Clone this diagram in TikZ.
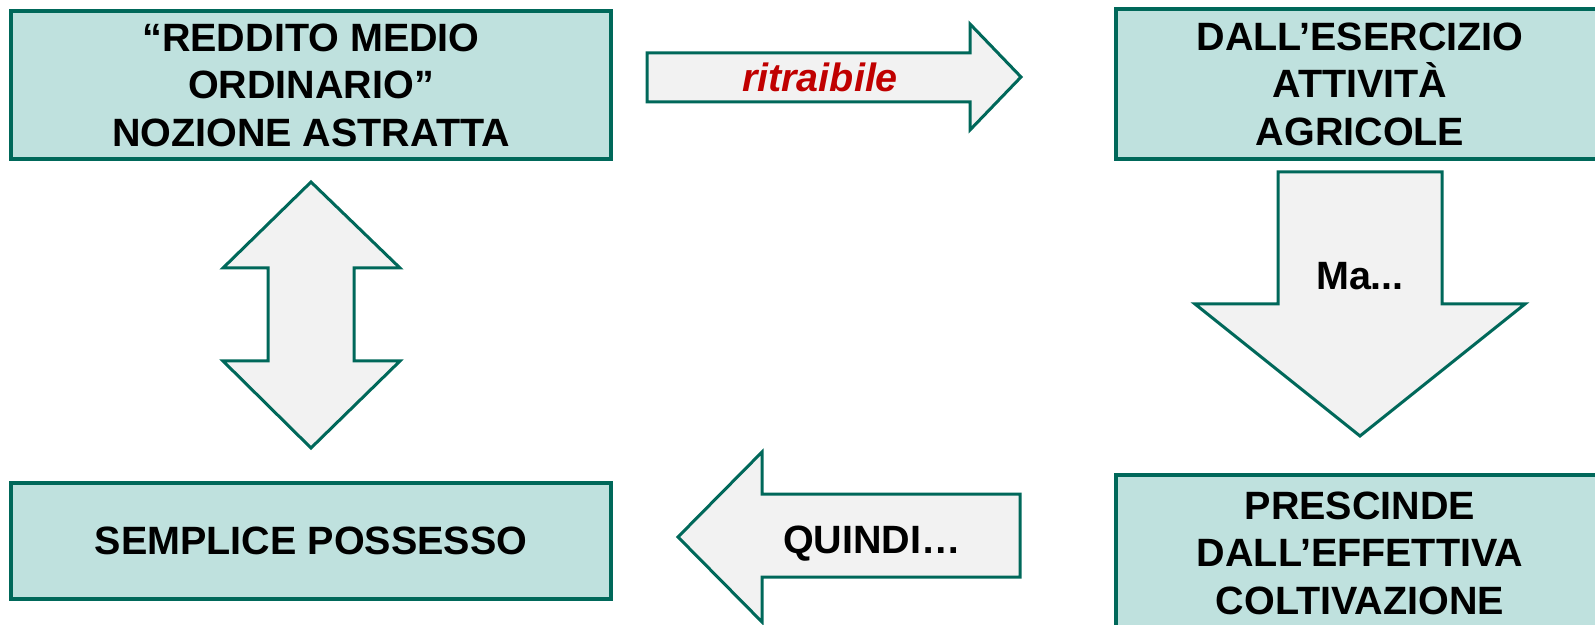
\documentclass[tikz,border=0pt]{standalone}
\usepackage{fontspec}
\setmainfont{Liberation Sans}
\usepackage{tikz}
\definecolor{tealdk}{RGB}{0,104,90}
\definecolor{tealbg}{RGB}{191,225,222}
\definecolor{arrbg}{RGB}{242,242,242}
\definecolor{ritred}{RGB}{192,0,0}

\begin{document}
\begin{tikzpicture}[
  x=0.5pt, y=-0.5pt,
  bx/.style={draw=tealdk, line width=2pt, fill=tealbg, align=center,
             font=\fontsize{19.75}{23.75}\selectfont\bfseries, inner sep=0pt},
  blk/.style={draw=tealdk, line width=1.5pt, fill=arrbg, line join=miter},
  lbl/.style={font=\fontsize{19.75}{23.5}\selectfont\bfseries, inner sep=0pt}]
\path[use as bounding box, clip] (0,0) rectangle (1595,625);
% boxes
\node[bx, minimum width=299.75pt, minimum height=74.25pt] (reddito) at (311,85)
  {“REDDITO MEDIO\\ORDINARIO”\\NOZIONE ASTRATTA};
\node[bx, minimum width=244pt, minimum height=75pt] (attiv) at (1360,84)
  {DALL’ESERCIZIO\\ATTIVITÀ\\AGRICOLE};
\node[bx, minimum width=299.75pt, minimum height=58pt] (possesso) at (311,541)
  {SEMPLICE POSSESSO};
\node[bx, minimum width=244pt, minimum height=78pt] (prescinde) at (1360,553)
  {PRESCINDE\\DALL’EFFETTIVA\\COLTIVAZIONE};
% block arrows
\draw[blk] (647,53) -- (970,53) -- (970,24) -- (1021,77) -- (970,130)
  -- (970,102) -- (647,102) -- cycle;
\draw[blk] (1278,172) -- (1442,172) -- (1442,304) -- (1525,304) -- (1360,436)
  -- (1195,304) -- (1278,304) -- cycle;
\draw[blk] (1020,494) -- (762,494) -- (762,452) -- (678,537) -- (762,622)
  -- (762,577) -- (1020,577) -- cycle;
\draw[blk] (311,182) -- (400,268) -- (354,268) -- (354,361) -- (400,361)
  -- (311,448) -- (223,361) -- (268,361) -- (268,268) -- (223,268) -- cycle;
% arrow labels
\node[lbl, text=ritred, font=\fontsize{19.75}{23.5}\selectfont\bfseries\itshape]
  (ritr) at (820,77) {ritraibile};
\node[lbl] (ma) at (1360,276) {Ma...};
\node[lbl] (quindi) at (872,544) {QUINDI…};
\end{tikzpicture}
\end{document}
